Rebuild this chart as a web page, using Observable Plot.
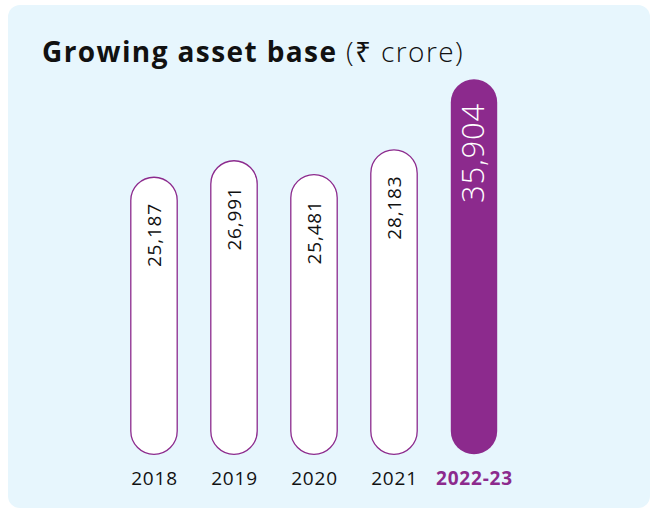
<!DOCTYPE html>
<html><head><meta charset="utf-8">
<script src="https://cdn.jsdelivr.net/npm/d3@7"></script>
<script src="https://cdn.jsdelivr.net/npm/@observablehq/plot@0.6"></script>
<style>
body{margin:0;background:#fff;width:657px;height:513px;overflow:hidden;font-family:"Open Sans",sans-serif;position:relative}
#panel{position:absolute;left:8px;top:5px;width:642px;height:503px;background:#e7f6fd;border-radius:12px}
#title{position:absolute;left:42px;top:33px;font-size:28px;line-height:36px;color:#111;margin:0;white-space:nowrap;letter-spacing:1.4px}
#title b{font-weight:700}
#title span{font-weight:300}
#chart{position:absolute;left:0;top:0}
</style></head><body>
<div id="panel"></div>
<div id="title"><b>Growing asset base</b> <span>(₹ crore)</span></div>
<div id="chart"></div>
<script>
const years = ["2018", "2019", "2020", "2021", "2022-23"];
const assets = [25187, 26991, 25481, 28183, 35904];
const latestYear = "2022-23";

const purple = "#8c2a8d";
const fmt = d3.format(",");
const data = years.map((year, i) => ({year, value: assets[i]}));
const past = data.filter(d => d.year !== latestYear);
const latest = data.filter(d => d.year === latestYear);

const r = 23.3;
const barOpts = {x: "year", y: "value", rx: r, insetTop: -r, insetBottom: -r, insetLeft: 16.8, insetRight: 16.8};

const chart = Plot.plot({
  width: 657,
  height: 513,
  marginLeft: 113.4,
  marginRight: 142.4,
  marginTop: 101.6,
  marginBottom: 82,
  style: {background: "transparent", fontFamily: "'Open Sans', sans-serif", letterSpacing: "0.8px"},
  x: {domain: years, padding: 0, axis: null},
  y: {domain: [0, 36000], axis: null},
  marks: [
    Plot.barY(past, {...barOpts, fill: "white", stroke: purple, strokeWidth: 1.3}),
    Plot.barY(latest, {...barOpts, fill: purple}),
    Plot.text(past, {x: "year", y: "value", text: d => fmt(d.value), rotate: -90, textAnchor: "end", dy: 2, fontSize: 19, fill: "#111"}),
    Plot.text(latest, {x: "year", y: "value", text: d => fmt(d.value), rotate: -90, textAnchor: "end", dy: 0, fontSize: 31, fontWeight: 300, fill: "white"}),
    Plot.text(past, {x: "year", frameAnchor: "bottom", text: "year", dy: 53, fontSize: 19, fill: "#111"}),
    Plot.text(latest, {x: "year", frameAnchor: "bottom", text: "year", dy: 53, fontSize: 19, fontWeight: 700, fill: purple})
  ]
});
document.getElementById("chart").append(chart);
</script>
</body></html>
